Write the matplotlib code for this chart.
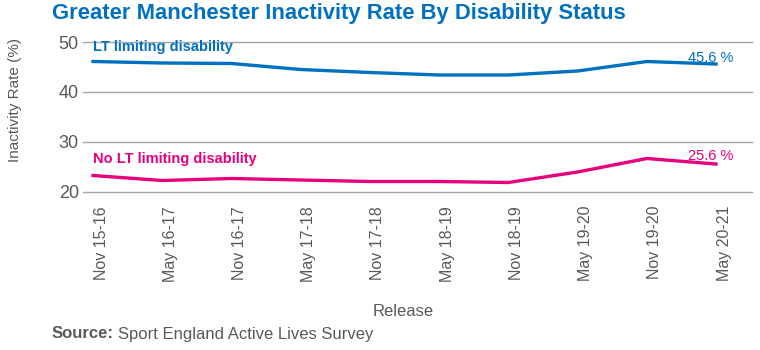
import matplotlib
matplotlib.use("Agg")
import matplotlib.pyplot as plt
import matplotlib.transforms as mtransforms

releases = ["Nov 15-16", "May 16-17", "Nov 16-17", "May 17-18", "Nov 17-18",
            "May 18-19", "Nov 18-19", "May 19-20", "Nov 19-20", "May 20-21"]
lt_limiting = [46.1, 45.8, 45.7, 44.5, 43.9, 43.4, 43.4, 44.2, 46.1, 45.6]
no_lt_limiting = [23.3, 22.3, 22.7, 22.4, 22.1, 22.1, 21.9, 24.0, 26.7, 25.6]
y_ticks = [20, 30, 40, 50]

BLUE = "#0070C0"
PINK = "#E6007E"
GREY = "#595959"
GRID = "#A6A6A6"

plt.rcParams['font.family'] = ['Liberation Sans', 'DejaVu Sans']

fig = plt.figure(figsize=(7.6, 3.5), dpi=100)
ax = fig.add_axes([83/760, 1-192/350, (752-83)/760, 150/350])

x = list(range(len(releases)))
ax.plot(x, lt_limiting, color=BLUE, lw=2.4, solid_joinstyle='round')
ax.plot(x, no_lt_limiting, color=PINK, lw=2.4, solid_joinstyle='round')

ax.set_ylim(20, 50)
ax.set_xlim(-0.145, 9.52)
ax.set_yticks(y_ticks)
ax.set_xticks(x)
ax.set_xticklabels(releases, rotation=90, fontsize=11.5, color=GREY)
ax.tick_params(axis='y', labelsize=13, colors=GREY, length=0, pad=3)
ax.tick_params(axis='x', length=0, pad=10)
ax.yaxis.grid(True, color=GRID, lw=1)
for gl in ax.get_ygridlines():
    gl.set_clip_on(False)
ax.set_axisbelow(True)
for s in ax.spines.values():
    s.set_visible(False)

offset = mtransforms.ScaledTranslation(8/100, 0, fig.dpi_scale_trans)
for lbl in ax.get_xticklabels():
    lbl.set_transform(lbl.get_transform() + offset)

ax.text(x[0], 49.1, "LT limiting disability", color=BLUE, fontsize=10.5,
        fontweight='bold', ha='left', va='center')
ax.text(x[0], 26.7, "No LT limiting disability", color=PINK, fontsize=10.5,
        fontweight='bold', ha='left', va='center')
ax.text(x[-1] - 0.08, lt_limiting[-1] + 1.3, f"{lt_limiting[-1]} %", color=BLUE,
        fontsize=10.5, ha='center', va='center')
ax.text(x[-1] - 0.08, no_lt_limiting[-1] + 1.7, f"{no_lt_limiting[-1]} %", color=PINK,
        fontsize=10.5, ha='center', va='center')

fig.text(15/760, 1-100/350, "Inactivity Rate (%)", rotation=90, color=GREY,
         fontsize=11, ha='center', va='center')
fig.text(403/760, 1-311/350, "Release", color=GREY, fontsize=12,
         ha='center', va='center')
fig.text(52/760, 1-14/350, "Greater Manchester Inactivity Rate By Disability Status",
         color=BLUE, fontsize=15.8, fontweight='bold', ha='left', va='center')
src = fig.text(52/760, 1-334/350, "Source:", color=GREY, fontsize=12,
               fontweight='bold', ha='left', va='center')
fig.canvas.draw()
bb = src.get_window_extent(renderer=fig.canvas.get_renderer())
fig.text((bb.x1 + 4) / fig.bbox.width, 1-334/350, "Sport England Active Lives Survey",
         color=GREY, fontsize=12, ha='left', va='center')

fig.savefig("out.png", dpi=100)
